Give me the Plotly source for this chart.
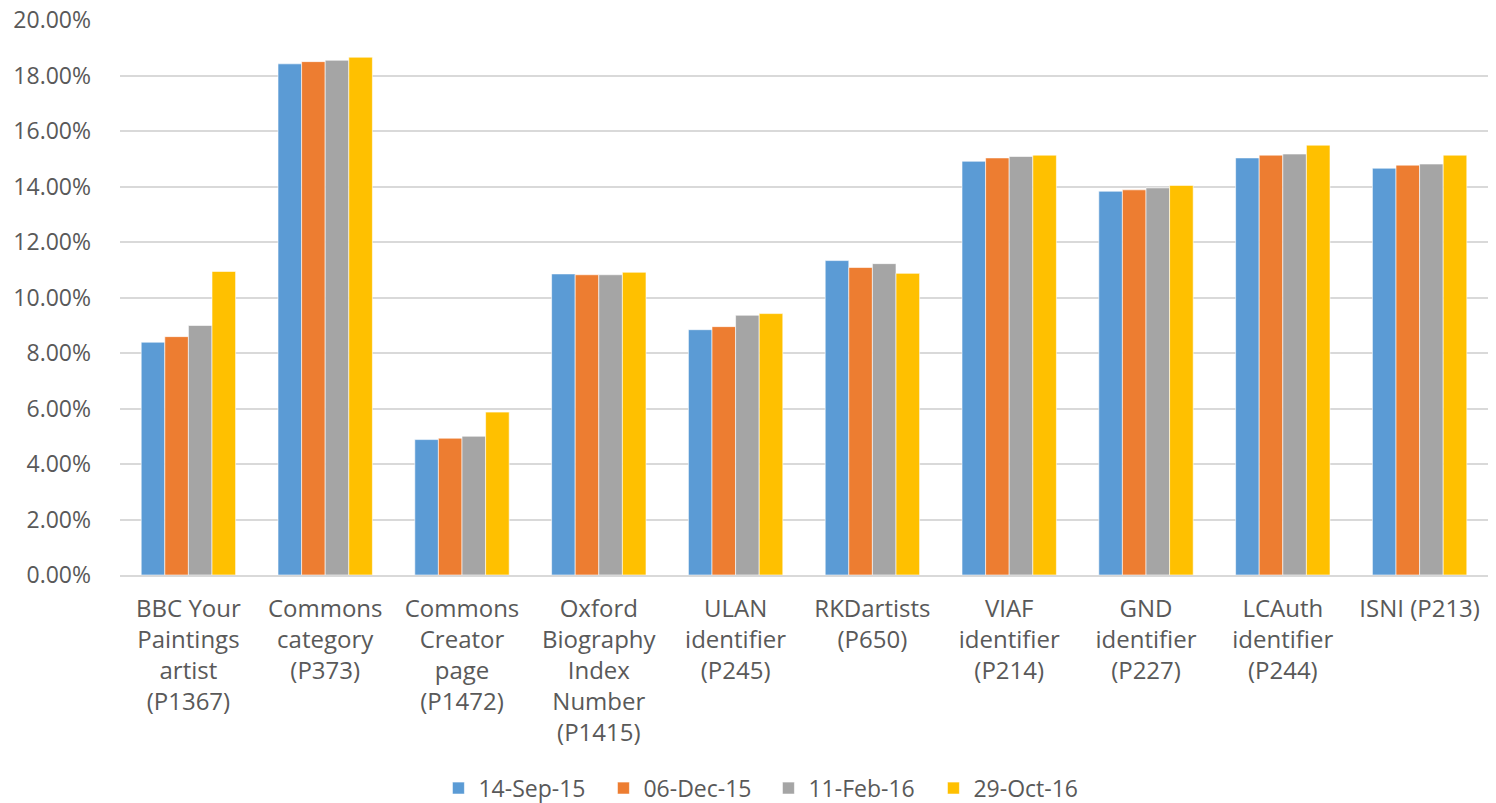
import plotly.graph_objects as go

categories = [
    "BBC Your<br>Paintings<br>artist<br>(P1367)",
    "Commons<br>category<br>(P373)",
    "Commons<br>Creator<br>page<br>(P1472)",
    "Oxford<br>Biography<br>Index<br>Number<br>(P1415)",
    "ULAN<br>identifier<br>(P245)",
    "RKDartists<br>(P650)",
    "VIAF<br>identifier<br>(P214)",
    "GND<br>identifier<br>(P227)",
    "LCAuth<br>identifier<br>(P244)",
    "ISNI (P213)",
]
series_names = ["14-Sep-15", "06-Dec-15", "11-Feb-16", "29-Oct-16"]
sep15 = [0.0839, 0.1842, 0.0488, 0.1085, 0.0884, 0.1133, 0.1491, 0.1383, 0.1503, 0.1466]
dec15 = [0.0859, 0.1850, 0.0493, 0.1082, 0.0895, 0.1108, 0.1503, 0.1388, 0.1513, 0.1477]
feb16 = [0.0899, 0.1855, 0.0500, 0.1082, 0.0936, 0.1122, 0.1508, 0.1395, 0.1517, 0.1481]
oct16 = [0.1094, 0.1866, 0.0587, 0.1091, 0.0942, 0.1087, 0.1513, 0.1404, 0.1549, 0.1513]
colors = ["#5b9bd5", "#ed7d31", "#a5a5a5", "#ffc000"]

fig = go.Figure()
for name, vals, col in zip(series_names, [sep15, dec15, feb16, oct16], colors):
    fig.add_trace(go.Bar(
        x=categories, y=vals, name=name,
        marker=dict(color=col, line=dict(color="white", width=0.6)),
    ))

font_family = "Open Sans, Noto Sans, sans-serif"
fig.update_layout(
    width=1488, height=795,
    paper_bgcolor="white", plot_bgcolor="white",
    margin=dict(l=112, r=8, t=12, b=228, autoexpand=False),
    barmode="group", bargap=0.31, bargroupgap=0,
    font=dict(family=font_family, size=23, color="#595959"),
    xaxis=dict(
        showgrid=False, showline=True, linecolor="#d9d9d9", linewidth=1.5,
        tickfont=dict(size=24, color="#595959"), tickangle=0,
        ticks="", ticklen=0, ticklabelstandoff=11, automargin=False,
    ),
    yaxis=dict(
        range=[0, 0.2], dtick=0.02, tickformat=".2%",
        showgrid=True, gridcolor="#d9d9d9", gridwidth=1.5,
        zeroline=False, showline=False,
        tickfont=dict(size=23, color="#595959"),
        ticks="", ticklabelstandoff=28, automargin=False,
        ticklabeloverflow="allow",
    ),
    legend=dict(
        orientation="h", x=0.474, xanchor="center", y=-0.384, yanchor="middle",
        font=dict(size=23, color="#595959"),
        itemwidth=30, traceorder="normal",
        entrywidth=120, entrywidthmode="pixels",
    ),
)

fig.write_html("out.html")
